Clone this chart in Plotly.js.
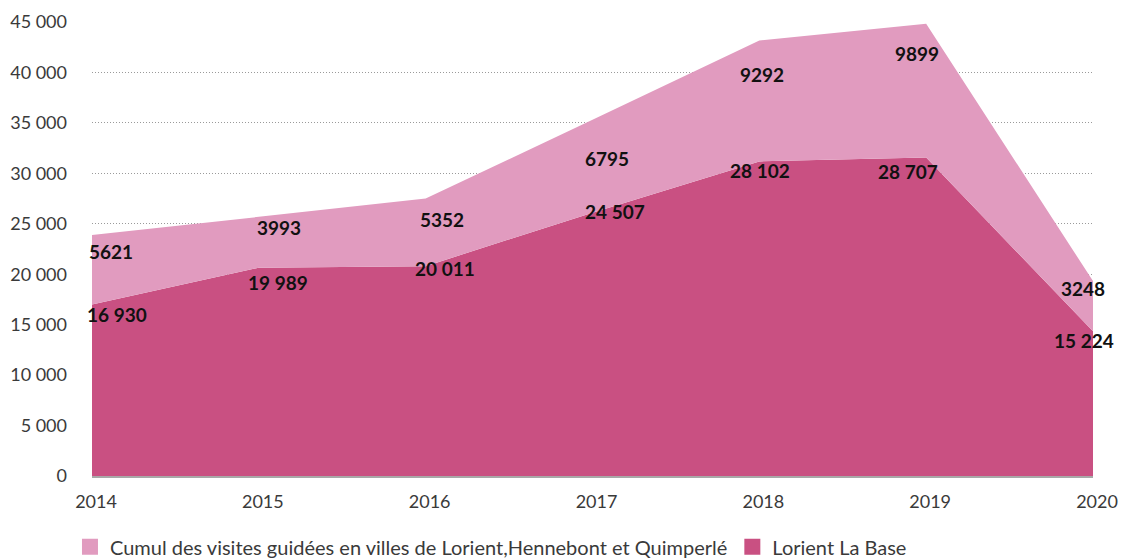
<!DOCTYPE html>
<html>
<head>
<meta charset="utf-8">
<script src="https://cdn.plot.ly/plotly-3.0.1.min.js"></script>
<style>html,body{margin:0;padding:0;background:#fff}#chart{width:1130px;height:559px}</style>
</head>
<body>
<div id="chart"></div>
<script>
// ---- data ----
const years = [2014, 2015, 2016, 2017, 2018, 2019, 2020];
const laBase = [17000, 20650, 20800, 26100, 31180, 31580, 14340];          // Lorient La Base (drawn)
const visitesGuidees = [6890, 5040, 6700, 9200, 11990, 13250, 4980];       // stacked on top (drawn)
const laBaseLabels = ["16 930", "19 989", "20 011", "24 507", "28 102", "28 707", "15 224"];
const visitesLabels = ["5621", "3993", "5352", "6795", "9292", "9899", "3248"];
const seriesNames = ["Cumul des visites guidées en villes de Lorient,Hennebont et Quimperlé", "Lorient La Base"];
const yTickVals = [0, 5000, 10000, 15000, 20000, 25000, 30000, 35000, 40000, 45000];
const yTickLabels = ["0", "5 000", "10 000", "15 000", "20 000", "25 000", "30 000", "35 000", "40 000", "45 000"];

// ---- styles / label offsets (pixels) ----
const lightPink = "#e19bbf";
const darkPink = "#c95082";
const baseShiftX = [25, 19, 19, 22, 1, -18, -9];
const baseShiftY = [-10, -15, -2, 1, -9, -14, -9];
const topShiftX = [19, 20, 16, 14, 3, -9, -10];
const topShiftY = [-17, -11, -21, -39, -34, -30, -7];

const cumulative = years.map((_, i) => laBase[i] + visitesGuidees[i]);

const traces = [
  {x: years, y: laBase, type: "scatter", mode: "none", stackgroup: "one",
   fillcolor: darkPink, line: {width: 0}, showlegend: false, hoverinfo: "skip"},
  {x: years, y: visitesGuidees, type: "scatter", mode: "none", stackgroup: "one",
   fillcolor: lightPink, line: {width: 0}, showlegend: false, hoverinfo: "skip"},
  {x: [null], y: [null], type: "scatter", mode: "markers", name: seriesNames[0],
   marker: {symbol: "square", size: 18, color: lightPink}},
  {x: [null], y: [null], type: "scatter", mode: "markers", name: seriesNames[1],
   marker: {symbol: "square", size: 18, color: darkPink}}
];

const labelFont = {family: "Lato, 'Open Sans', sans-serif", size: 19, color: "#111"};
const annotations = [];
years.forEach((yr, i) => {
  annotations.push({x: yr, y: laBase[i], xref: "x", yref: "y", text: "<b>" + laBaseLabels[i] + "</b>",
    showarrow: false, xshift: baseShiftX[i], yshift: baseShiftY[i], font: labelFont});
  annotations.push({x: yr, y: cumulative[i], xref: "x", yref: "y", text: "<b>" + visitesLabels[i] + "</b>",
    showarrow: false, xshift: topShiftX[i], yshift: topShiftY[i], font: labelFont});
});

const layout = {
  width: 1130, height: 559,
  margin: {l: 92, r: 37, t: 22, b: 83, autoexpand: false},
  paper_bgcolor: "#fff", plot_bgcolor: "#fff",
  font: {family: "Lato, 'Open Sans', sans-serif", color: "#3a3a3a", size: 18},
  showlegend: true,
  legend: {orientation: "h", x: -0.022, xanchor: "left", y: -0.156, yanchor: "middle",
    font: {size: 20, color: "#3a3a3a"}, traceorder: "normal", itemclick: false, tracegroupgap: 0},
  xaxis: {range: [2014, 2020], tickvals: years, ticktext: years.map(String),
    showgrid: false, zeroline: false, showline: true, linecolor: "#a8a8a8", linewidth: 2,
    layer: "above traces", ticks: "", ticklabelstandoff: 8, ticklabelshift: 4, fixedrange: true,
    tickfont: {size: 18}},
  yaxis: {range: [0, 45000], tickvals: yTickVals, ticktext: yTickLabels,
    showgrid: true, gridcolor: "#9a9a9a", griddash: "1px,2px", gridwidth: 1,
    zeroline: false, showline: false, ticks: "", ticklabelstandoff: 24, fixedrange: true,
    tickfont: {size: 18}},
  annotations: annotations
};

Plotly.newPlot("chart", traces, layout, {displayModeBar: false, staticPlot: true});
</script>
</body>
</html>
